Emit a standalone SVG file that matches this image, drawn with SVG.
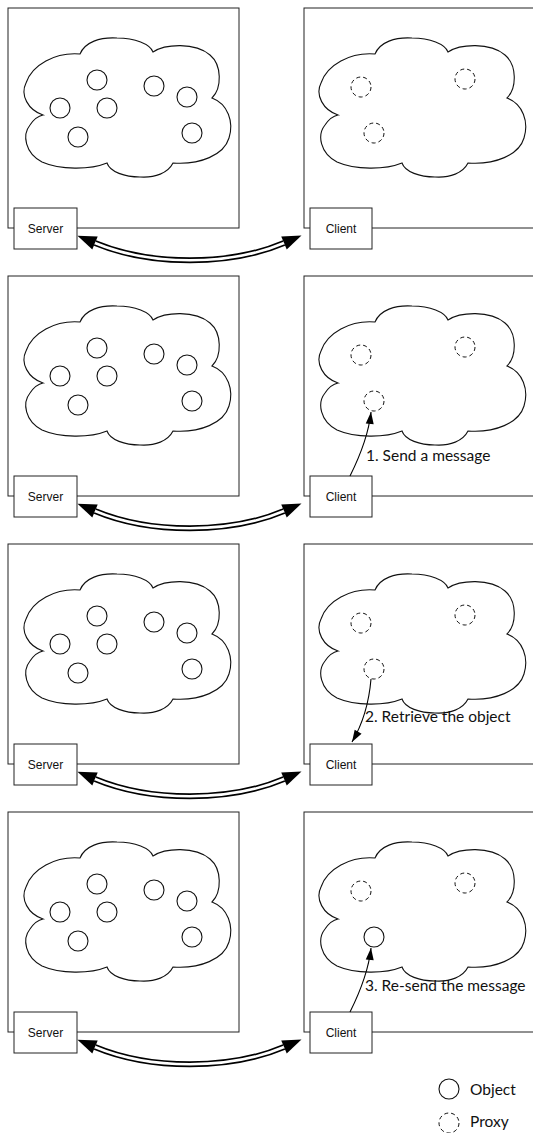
<svg xmlns="http://www.w3.org/2000/svg" xmlns:xlink="http://www.w3.org/1999/xlink" width="533" height="1133" viewBox="0 0 533 1133">
<style>
.frame{fill:#fff;stroke:#222;stroke-width:1}
.box{fill:#fff;stroke:#222;stroke-width:1}
.cloud{fill:#fff;stroke:#111;stroke-width:1.1}
.obj{fill:#fff;stroke:#111;stroke-width:1.1}
.proxy{fill:none;stroke:#111;stroke-width:1;stroke-dasharray:4 3}
.lbl{font-family:"Liberation Sans",Arial,sans-serif;font-size:12px;fill:#111;text-anchor:middle}
.note{font-family:Lato,"Open Sans",sans-serif;font-size:15.5px;fill:#111}
.dbl-out{fill:none;stroke:#000;stroke-width:6}
.dbl-in{fill:none;stroke:#fff;stroke-width:2.6}
.thin{fill:none;stroke:#000;stroke-width:1.1}
</style>
<defs>
<path id="cloud" d="M43,115 C28,110 20,95 26,83 C32,65 55,52 80,54 C85,42 100,37 117,38 C135,38 150,44 153,52 C165,44 195,42 210,55 C222,65 222,88 212,98 C228,104 234,122 229,138 C224,155 200,165 173,163 C168,173 155,178 140,177 C125,177 110,172 107,163 C90,170 60,170 42,162 C25,153 22,135 30,125 C34,119 38,116 43,115 Z"/>
<marker id="big" markerUnits="userSpaceOnUse" viewBox="0 -8 20 16" refX="0" refY="0" markerWidth="20" markerHeight="16" orient="auto-start-reverse" overflow="visible">
<path d="M0,-7 L19,0 L0,7 Z" fill="#000"/>
</marker>
<marker id="small" markerUnits="userSpaceOnUse" viewBox="-12 -5 13 10" refX="0" refY="0" markerWidth="13" markerHeight="10" orient="auto" overflow="visible">
<path d="M-12,-4 L0,0 L-12,4 Z" fill="#000"/>
</marker>
<g id="serverPanel">
<rect class="frame" x="8" y="8" width="231" height="220"/>
<use href="#cloud" class="cloud"/>
<circle class="obj" cx="97" cy="80" r="10"/>
<circle class="obj" cx="154" cy="86" r="10"/>
<circle class="obj" cx="187" cy="97" r="10"/>
<circle class="obj" cx="60" cy="108" r="10"/>
<circle class="obj" cx="107" cy="108" r="10"/>
<circle class="obj" cx="78" cy="137" r="10"/>
<circle class="obj" cx="192" cy="133" r="10"/>
<rect class="box" x="14" y="208" width="63" height="41"/>
<text class="lbl" x="45.5" y="233">Server</text>
</g>
<g id="clientFrame">
<rect class="frame" x="304" y="8" width="240" height="220"/>
<use href="#cloud" class="cloud" transform="translate(295,0)"/>
<circle class="proxy" cx="361" cy="87" r="10"/>
<circle class="proxy" cx="465" cy="79" r="10"/>
</g>
<g id="clientBox">
<rect class="box" x="310" y="208" width="62" height="41"/>
<text class="lbl" x="341" y="233">Client</text>
</g>
</defs>

<g id="row1-server"><use href="#serverPanel"/></g>
<g id="row1-client"><use href="#clientFrame"/><circle class="proxy" cx="374" cy="133" r="10"/><use href="#clientBox"/></g>

<g id="row2-server" transform="translate(0,268)"><use href="#serverPanel"/></g>
<g id="row2-client" transform="translate(0,268)"><use href="#clientFrame"/><circle class="proxy" cx="374" cy="133" r="10"/><use href="#clientBox"/></g>

<g id="row3-server" transform="translate(0,536)"><use href="#serverPanel"/></g>
<g id="row3-client" transform="translate(0,536)"><use href="#clientFrame"/><circle class="proxy" cx="374" cy="133" r="10"/><use href="#clientBox"/></g>

<g id="row4-server" transform="translate(0,804)"><use href="#serverPanel"/></g>
<g id="row4-client" transform="translate(0,804)"><use href="#clientFrame"/><circle class="obj" cx="374" cy="133" r="10"/><use href="#clientBox"/></g>

<g id="connectors">
<g transform="translate(0,0)">
<path class="dbl-out" d="M95,243 C150,266 230,266 284,243" marker-start="url(#big)" marker-end="url(#big)"/>
<path class="dbl-in" d="M95,243 C150,266 230,266 284,243"/>
</g>
<g transform="translate(0,268)">
<path class="dbl-out" d="M95,243 C150,266 230,266 284,243" marker-start="url(#big)" marker-end="url(#big)"/>
<path class="dbl-in" d="M95,243 C150,266 230,266 284,243"/>
</g>
<g transform="translate(0,536)">
<path class="dbl-out" d="M95,243 C150,266 230,266 284,243" marker-start="url(#big)" marker-end="url(#big)"/>
<path class="dbl-in" d="M95,243 C150,266 230,266 284,243"/>
</g>
<g transform="translate(0,804)">
<path class="dbl-out" d="M95,243 C150,266 230,266 284,243" marker-start="url(#big)" marker-end="url(#big)"/>
<path class="dbl-in" d="M95,243 C150,266 230,266 284,243"/>
</g>
<path class="thin" d="M350,476 Q368,440 371,412" marker-end="url(#small)"/>
<text class="note" x="366" y="461">1. Send a message</text>
<path class="thin" d="M371,679 Q368,715 352,742" marker-end="url(#small)"/>
<text class="note" x="365" y="722">2. Retrieve the object</text>
<path class="thin" d="M350,1012 Q368,976 371,948" marker-end="url(#small)"/>
<text class="note" x="365" y="991">3. Re-send the message</text>
</g>

<g id="legend">
<circle class="obj" cx="449" cy="1089" r="10"/>
<text class="note" x="470" y="1095">Object</text>
<circle class="proxy" cx="449" cy="1123" r="10"/>
<text class="note" x="470" y="1127">Proxy</text>
</g>
</svg>
